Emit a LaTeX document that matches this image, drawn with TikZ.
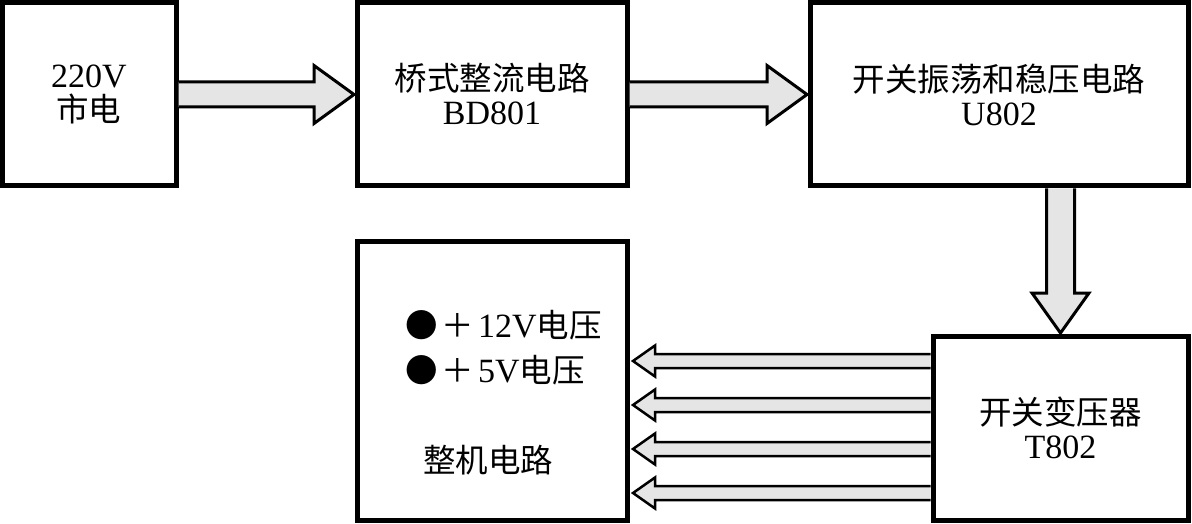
\documentclass[tikz,border=0pt]{standalone}
\usepackage{fontspec}
\setmainfont{Liberation Serif}
\newfontfamily\cjk{Noto Sans CJK SC}
\newcommand{\zh}[1]{{\fontsize{32.5}{34}\cjk #1}}
\usetikzlibrary{calc}
\begin{document}
\begin{tikzpicture}[x=1pt,y=-1pt,
  box/.style={draw,line width=5pt,inner sep=0pt,outer sep=0pt,align=center,
    font=\fontsize{34}{34}\selectfont},
  txt/.style={inner sep=0pt,font=\fontsize{34}{34}\selectfont},
  fat/.style={draw,line width=3pt,fill=black!10,line join=miter},
  slim/.style={draw,line width=2.5pt,fill=black!10,line join=miter}]
\useasboundingbox (0,0) rectangle (1192,524);
\node[box,minimum width=174pt,minimum height=183pt] (b1) at (89,94.5) {220V\\\zh{市电}};
\node[box,minimum width=270pt,minimum height=183pt] (b2) at (492,94.5) {\zh{桥式整流电路}\\BD801};
\node[box,minimum width=378pt,minimum height=183pt] (b3) at (999,94.5) {\zh{开关振荡和稳压电路}\\U802};
\node[box,minimum width=270pt,minimum height=279pt] (b4) at (492,380.5) {};
\node[box,minimum width=255pt,minimum height=184pt] (b5) at (1060.5,428) {\zh{开关变压器}\\T802};
\node[txt,anchor=west] (l1) at (405,325) {\zh{●\hspace{4pt}＋}\hspace{4pt}12V\zh{电压}};
\node[txt,anchor=west] (l2) at (405,370) {\zh{●\hspace{4pt}＋}\hspace{4pt}5V\zh{电压}};
\node[txt] (l3) at (488,460) {\zh{整机电路}};
% big horizontal arrows
\filldraw[fat] ($(b1.east)+(2.5,-12.5)$) -- ($(b2.west)+(-43,-12.5)$) -- ($(b2.west)+(-43,-29)$)
  -- ($(b2.west)+(-3,0)$) -- ($(b2.west)+(-43,29)$) -- ($(b2.west)+(-43,12.5)$) -- ($(b1.east)+(2.5,12.5)$);
\filldraw[fat] ($(b2.east)+(2.5,-12.5)$) -- ($(b3.west)+(-43,-12.5)$) -- ($(b3.west)+(-43,-29)$)
  -- ($(b3.west)+(-3,0)$) -- ($(b3.west)+(-43,29)$) -- ($(b3.west)+(-43,12.5)$) -- ($(b2.east)+(2.5,12.5)$);
% down arrow
\coordinate (d0) at (b5.north |- b3.south);
\filldraw[fat] ($(d0)+(-14,2.5)$) -- ($(b5.north)+(-14,-43)$) -- ($(b5.north)+(-28.5,-43)$)
  -- ($(b5.north)+(0,-3)$) -- ($(b5.north)+(28.5,-43)$) -- ($(b5.north)+(14,-43)$) -- ($(d0)+(14,2.5)$);
% small arrows
\foreach \o [count=\i] in {-67,-23,21,65}{
  \coordinate (s\i) at ($(b5.west)+(-2.5,\o)$);
  \coordinate (t\i) at ($(b4.east |- s\i)+(6,0)$);
  \filldraw[slim] ($(s\i)+(0,-7)$) -- ($(t\i)+(22,-7)$) -- ($(t\i)+(22,-15.5)$) -- (t\i)
    -- ($(t\i)+(22,15.5)$) -- ($(t\i)+(22,7)$) -- ($(s\i)+(0,7)$);
}
\end{tikzpicture}
\end{document}
